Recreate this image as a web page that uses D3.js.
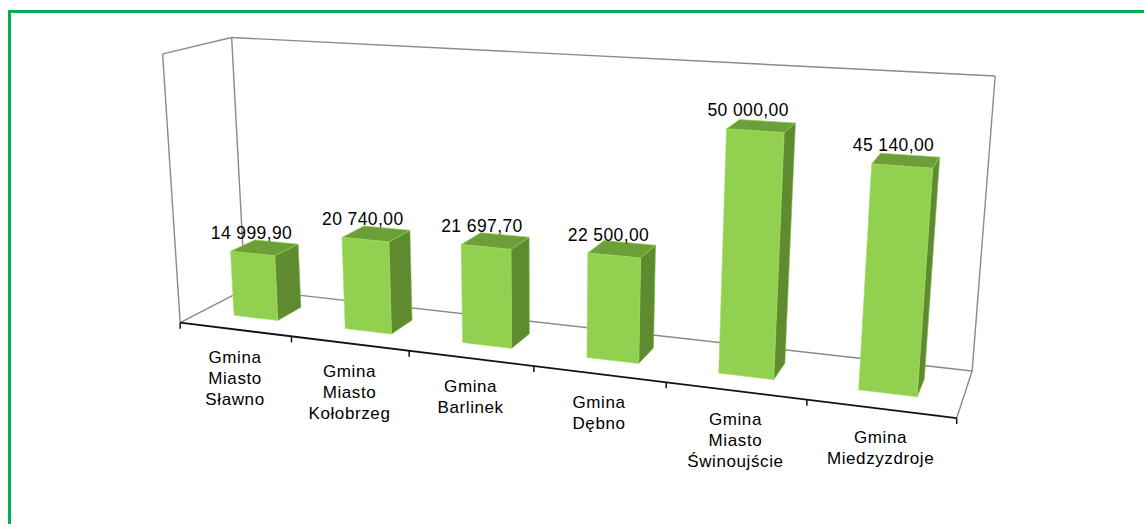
<!DOCTYPE html>
<html>
<head>
<meta charset="utf-8">
<script src="https://cdn.jsdelivr.net/npm/d3@7"></script>
<style>
  html, body { margin: 0; padding: 0; background: #fff; }
  svg { display: block; }
</style>
</head>
<body>
<svg id="chart" width="1144" height="524"></svg>
<script>
// ---- data ----
const categories = [
  "Gmina\nMiasto\nSławno",
  "Gmina\nMiasto\nKołobrzeg",
  "Gmina\nBarlinek",
  "Gmina\nDębno",
  "Gmina\nMiasto\nŚwinoujście",
  "Gmina\nMiedzyzdroje"
];
const values = [14999.90, 20740.00, 21697.70, 22500.00, 50000.00, 45140.00];
const valueAxisDomain = [0, 60000];

// ---- layout: screen anchors of the 3D plot box (u = along categories, v = height, w = depth) ----
const boxAnchors = [
  { p: [0, 0, 0], s: [181.7, 322.3] },
  { p: [1, 0, 0], s: [956.7, 418.3] },
  { p: [0, 1, 0], s: [161.0, 54.0] },
  { p: [0, 0, 1], s: [243.5, 289.5] },
  { p: [1, 0, 1], s: [972.3, 370.7] },
  { p: [0, 1, 1], s: [233.3, 37.3] },
  { p: [1, 1, 1], s: [995.0, 76.0] }
];
const barDepth = [0.32, 0.70];

// Fit a 3x4 perspective camera matrix (last entry fixed to 1) by least squares.
function fitCamera(anchors) {
  const rows = [], rhs = [];
  anchors.forEach(({ p: [X, Y, Z], s: [x, y] }) => {
    rows.push([X, Y, Z, 1, 0, 0, 0, 0, -x * X, -x * Y, -x * Z]); rhs.push(x);
    rows.push([0, 0, 0, 0, X, Y, Z, 1, -y * X, -y * Y, -y * Z]); rhs.push(y);
  });
  const n = 11;
  const M = Array.from({ length: n }, (_, i) => {
    const r = new Array(n + 1).fill(0);
    for (let j = 0; j < n; j++) rows.forEach(row => (r[j] += row[i] * row[j]));
    rows.forEach((row, k) => (r[n] += row[i] * rhs[k]));
    return r;
  });
  for (let c = 0; c < n; c++) {
    let piv = c;
    for (let r = c + 1; r < n; r++) if (Math.abs(M[r][c]) > Math.abs(M[piv][c])) piv = r;
    [M[c], M[piv]] = [M[piv], M[c]];
    for (let r = 0; r < n; r++) {
      if (r === c) continue;
      const f = M[r][c] / M[c][c];
      for (let k = c; k <= n; k++) M[r][k] -= f * M[c][k];
    }
  }
  return M.map((r, i) => r[n] / r[i]);
}
const P = fitCamera(boxAnchors);
function project([u, v, w]) {
  const d = P[8] * u + P[9] * v + P[10] * w + 1;
  return [
    (P[0] * u + P[1] * v + P[2] * w + P[3]) / d,
    (P[4] * u + P[5] * v + P[6] * w + P[7]) / d
  ];
}

// ---- scales ----
const xBand = d3.scaleBand().domain(categories).range([0, 1])
  .paddingInner(0.6).paddingOuter(0.3);
const yScale = d3.scaleLinear().domain(valueAxisDomain).range([0, 1]);
const plFormat = d3.formatLocale({ decimal: ",", thousands: " ", grouping: [3], currency: ["", " zł"] }).format(",.2f");

const svg = d3.select("#chart");
const line = d3.line();
const poly = pts => line(pts.map(project)) + "Z";

// ---- outer green frame ----
svg.append("path")
  .attr("d", "M9.5,524 V11.5 H1144")
  .attr("fill", "none").attr("stroke", "#00b050").attr("stroke-width", 3);

// ---- walls and floor outline ----
const frameColor = "#8a8a8a";
const frameEdges = [
  [[0, 0, 0], [0, 1, 0]],   // left wall, front edge
  [[0, 1, 0], [0, 1, 1]],   // left wall, top edge
  [[0, 0, 0], [0, 0, 1]],   // floor, left edge
  [[0, 1, 1], [0, 0, 1]],   // back wall, left edge
  [[0, 1, 1], [1, 1, 1]],   // back wall, top edge
  [[1, 1, 1], [1, 0, 1]],   // back wall, right edge
  [[0, 0, 1], [1, 0, 1]],   // floor, back edge
  [[1, 0, 0], [1, 0, 1]]    // floor, right edge
];
svg.append("g").selectAll("path").data(frameEdges).join("path")
  .attr("d", d => line(d.map(project)))
  .attr("fill", "none").attr("stroke", frameColor).attr("stroke-width", 1.4);

// ---- bars ----
const [w0, w1] = barDepth;
const bars = svg.append("g").selectAll("g").data(values.map((v, i) => ({ cat: categories[i], value: v, i })))
  .join("g");

bars.append("path") // right side
  .attr("d", d => {
    const u1 = xBand(d.cat) + xBand.bandwidth(), v = yScale(d.value);
    return poly([[u1, 0, w0], [u1, 0, w1], [u1, v, w1], [u1, v, w0]]);
  })
  .attr("fill", "#5f8b30").attr("stroke", "#7fb845").attr("stroke-width", 0.6);

bars.append("path") // top
  .attr("d", d => {
    const u0 = xBand(d.cat), u1 = u0 + xBand.bandwidth(), v = yScale(d.value);
    return poly([[u0, v, w0], [u1, v, w0], [u1, v, w1], [u0, v, w1]]);
  })
  .attr("fill", "#6c9e39").attr("stroke", "#8fd04c").attr("stroke-width", 0.7);

bars.append("path") // front
  .attr("d", d => {
    const u0 = xBand(d.cat), u1 = u0 + xBand.bandwidth(), v = yScale(d.value);
    return poly([[u0, 0, w0], [u1, 0, w0], [u1, v, w0], [u0, v, w0]]);
  })
  .attr("fill", "#92d050").attr("stroke", "#a2dc62").attr("stroke-width", 0.6);

// value labels above each bar
bars.append("text")
  .each(function (d) {
    const u = xBand(d.cat) + xBand.bandwidth() / 2, v = yScale(d.value);
    const [x, y] = project([u, v, w0]);
    d3.select(this).attr("x", x - 1 - d.i * 1.5).attr("y", y - 15);
  })
  .attr("text-anchor", "middle")
  .attr("font-family", "'Liberation Sans', Arial, sans-serif")
  .attr("font-size", 17.5)
  .attr("letter-spacing", 0.4)
  .attr("fill", "#000")
  .text(d => plFormat(d.value));

// ---- category axis along the front floor edge ----
const axis = svg.append("g");
axis.append("path")
  .attr("d", line([[0, 0, 0], [1, 0, 0]].map(project)))
  .attr("fill", "none").attr("stroke", "#111").attr("stroke-width", 1.8);

const tickPos = d3.range(categories.length + 1).map(i => i * xBand.step());
axis.selectAll("line.tick").data(tickPos).join("line")
  .attr("class", "tick")
  .each(function (u) {
    const [x, y] = project([u, 0, 0]);
    d3.select(this).attr("x1", x).attr("x2", x).attr("y1", y).attr("y2", y + 6);
  })
  .attr("stroke", "#111").attr("stroke-width", 1.5);

const catLabels = axis.selectAll("text.cat").data(categories).join("text")
  .attr("class", "cat")
  .attr("text-anchor", "middle")
  .attr("font-family", "'Liberation Sans', Arial, sans-serif")
  .attr("font-size", 17)
  .attr("letter-spacing", 0.6)
  .attr("fill", "#000");
catLabels.each(function (c) {
  const u = xBand(c) + xBand.bandwidth() / 2;
  const [x, y] = project([u, 0, 0]);
  d3.select(this).selectAll("tspan").data(c.split("\n")).join("tspan")
    .attr("x", x)
    .attr("y", (t, i) => y + 34 + i * 21)
    .text(t => t);
});
</script>
</body>
</html>
